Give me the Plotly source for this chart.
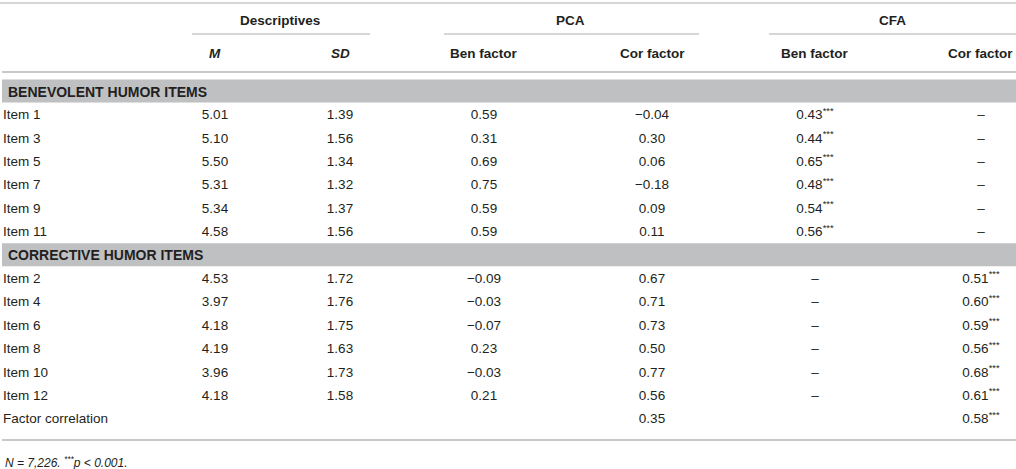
import plotly.graph_objects as go

# table contents
sections = ["BENEVOLENT HUMOR ITEMS", "CORRECTIVE HUMOR ITEMS"]
row_labels = ["Item 1", "Item 3", "Item 5", "Item 7", "Item 9", "Item 11",
              "Item 2", "Item 4", "Item 6", "Item 8", "Item 10", "Item 12",
              "Factor correlation"]
means = ["5.01", "5.10", "5.50", "5.31", "5.34", "4.58",
         "4.53", "3.97", "4.18", "4.19", "3.96", "4.18", ""]
sds = ["1.39", "1.56", "1.34", "1.32", "1.37", "1.56",
       "1.72", "1.76", "1.75", "1.63", "1.73", "1.58", ""]
pca_ben = ["0.59", "0.31", "0.69", "0.75", "0.59", "0.59",
           "\u22120.09", "\u22120.03", "\u22120.07", "0.23", "\u22120.03", "0.21", ""]
pca_cor = ["\u22120.04", "0.30", "0.06", "\u22120.18", "0.09", "0.11",
           "0.67", "0.71", "0.73", "0.50", "0.77", "0.56", "0.35"]
cfa_ben = ["0.43***", "0.44***", "0.65***", "0.48***", "0.54***", "0.56***",
           "\u2013", "\u2013", "\u2013", "\u2013", "\u2013", "\u2013", ""]
cfa_cor = ["\u2013", "\u2013", "\u2013", "\u2013", "\u2013", "\u2013",
           "0.51***", "0.60***", "0.59***", "0.56***", "0.68***", "0.61***", "0.58***"]
footnote = "<i>N = 7,226. <sup>***</sup>p < 0.001.</i>"

# layout helpers (pixel-like axis units)
W, H = 1016, 469
ROW0, ROWH = 91, 23.4
TXT_DY = 1.5
FONT = "Helvetica Neue, Liberation Sans, Arial, sans-serif"
INK = "#231f20"
GREY_BAND = "#bfc0c2"
RULE = "#c9c9c9"

# table row index for each data row (section bands take rows 0 and 7)
table_rows = [i + 1 if i < 6 else i + 2 for i in range(len(row_labels))]
ys = [ROW0 + ROWH * r + TXT_DY for r in table_rows]
section_ys = [ROW0, ROW0 + ROWH * 7]


def fmt(v):
    return v.replace("***", "<sup>***</sup>")


def text_trace(vals, cx, pos):
    keep = [i for i, v in enumerate(vals) if v]
    return go.Scatter(
        x=[cx] * len(keep), y=[ys[i] for i in keep],
        text=[fmt(vals[i]) for i in keep], mode="text",
        textposition=pos, hoverinfo="skip",
        textfont=dict(family=FONT, size=13.5, color=INK))


fig = go.Figure()

# item labels, left aligned
fig.add_trace(text_trace(row_labels, 3, "middle right"))

col_x = [215, 340, 484, 652, 815, 981]
for vals, cx in zip([means, sds, pca_ben, pca_cor, cfa_ben, cfa_cor], col_x):
    fig.add_trace(text_trace(vals, cx, "middle center"))

shapes = []
# grey section bands
for sy in section_ys:
    shapes.append(dict(type="rect", xref="x", yref="y", x0=2, x1=W,
                       y0=sy - 11.5, y1=sy + 11.5, fillcolor=GREY_BAND,
                       line=dict(width=0), layer="below"))
# horizontal rules
shapes.append(dict(type="line", xref="x", yref="y", x0=0, x1=W, y0=3, y1=3,
                   line=dict(color=RULE, width=1.5)))
for x0, x1 in [(192, 370), (444, 699), (769, W)]:
    shapes.append(dict(type="line", xref="x", yref="y", x0=x0, x1=x1, y0=34, y1=34,
                       line=dict(color=RULE, width=1.5)))
shapes.append(dict(type="line", xref="x", yref="y", x0=2, x1=W, y0=72, y1=72,
                   line=dict(color=RULE, width=2)))
shapes.append(dict(type="line", xref="x", yref="y", x0=2, x1=W, y0=440, y1=440,
                   line=dict(color=RULE, width=2)))

annotations = []
for text, ax in [("Descriptives", 280), ("PCA", 570), ("CFA", 892)]:
    annotations.append(dict(x=ax, y=20.5, text="<b>" + text + "</b>", showarrow=False,
                            xanchor="center", yanchor="middle",
                            font=dict(family=FONT, size=13.5, color=INK)))
for text, ax in [("<b><i>M</i></b>", col_x[0]), ("<b><i>SD</i></b>", col_x[1]),
                 ("<b>Ben factor</b>", col_x[2]), ("<b>Cor factor</b>", col_x[3]),
                 ("<b>Ben factor</b>", col_x[4]), ("<b>Cor factor</b>", col_x[5] - 1)]:
    annotations.append(dict(x=ax, y=53, text=text, showarrow=False,
                            xanchor="center", yanchor="middle",
                            font=dict(family=FONT, size=13.5, color=INK)))
for text, sy in zip(sections, section_ys):
    annotations.append(dict(x=6, y=sy + 0.5, text="<b>" + text + "</b>", showarrow=False,
                            xanchor="left", yanchor="middle",
                            font=dict(family=FONT, size=14, color=INK)))
annotations.append(dict(x=3, y=462, text=footnote, showarrow=False,
                        xanchor="left", yanchor="middle",
                        font=dict(family=FONT, size=12, color=INK)))

fig.update_layout(
    width=W, height=H, margin=dict(l=0, r=0, t=0, b=0),
    paper_bgcolor="white", plot_bgcolor="white", showlegend=False,
    xaxis=dict(range=[0, W], visible=False, fixedrange=True),
    yaxis=dict(range=[H, 0], visible=False, fixedrange=True),
    shapes=shapes, annotations=annotations,
)

fig.write_html("out.html", config={"displayModeBar": False},
               post_script="document.body.style.margin='0';")
